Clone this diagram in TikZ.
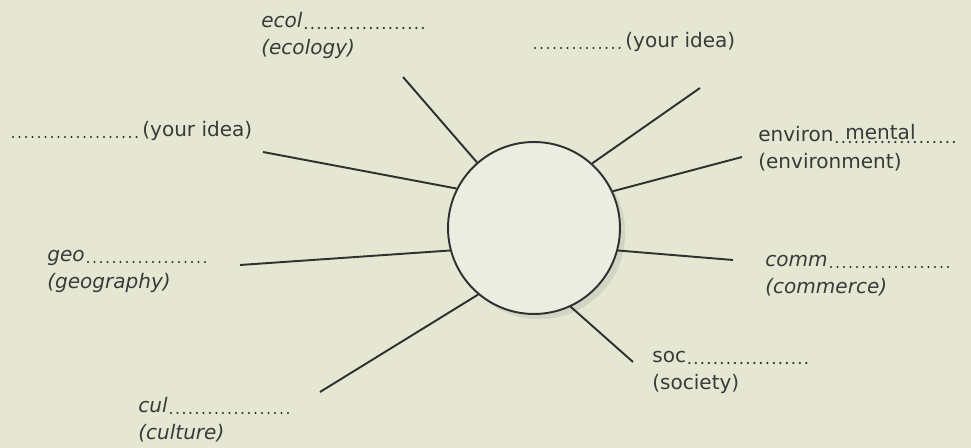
\documentclass[tikz,border=0pt]{standalone}
\usepackage{fontspec}
\setmainfont{DejaVu Sans}
\usetikzlibrary{shadows, positioning}
\definecolor{paper}{HTML}{E5E7D3}
\definecolor{hubfill}{HTML}{ECEDE1}
\definecolor{ink}{HTML}{303030}
\definecolor{inktext}{HTML}{3A3A3A}
\tikzset{
  % central circle
  hub/.style={circle, draw=ink, line width=1.1pt, fill=hubfill, minimum size=3.44cm,
    inner sep=0pt, drop shadow={shadow xshift=3pt, shadow yshift=-3pt, opacity=0.18}},
  % line out of the circle
  spoke/.style={ink, line width=1.1pt},
  % blank to fill in
  dotline/.style={ink, line width=1.4pt, line cap=round, dash pattern=on 0pt off 3.7pt},
  % word text
  lbl/.style={font=\fontsize{11.4}{13}\selectfont, text=inktext, inner sep=0pt},
}
% stem, blank and meaning below
\newcommand{\wordlabel}[5]{%
  \node[lbl, anchor=base west] (#1) at (#2) {#3#4};
  \draw[dotline] (#1.base east) ++(3,0) -- ++(120,0);
  \node[lbl, anchor=base west] (#1g) at ([yshift=-0.54cm]#1.base west) {#3#5};
}

\begin{document}
\begin{tikzpicture}[x=0.02cm, y=-0.02cm]
  \fill[paper] (0,0) rectangle (971,448);
  \node[hub] (hub) at (534,228) {};
  % free ends of the spokes
  \coordinate (ecolend) at (403,77);
  \coordinate (ideaRend) at (700,88);
  \coordinate (environend) at (742,157);
  \coordinate (commend) at (733,260);
  \coordinate (socend) at (633,362);
  \coordinate (culend) at (320,392);
  \coordinate (geoend) at (240,265);
  \coordinate (ideaLend) at (263,152);
  \foreach \a/\e in {131/ecolend, 48/ideaRend, 25/environend, -15/commend,
    -65/socend, -130/culend, -165/geoend, 153/ideaLend}
    \draw[spoke] (hub.\a) -- (\e);
  % words
  \wordlabel{ecol}{261,28}{\itshape}{ecol}{(ecology)}
  \wordlabel{geo}{47,262}{\itshape}{geo}{(geography)}
  \wordlabel{comm}{765,267}{\itshape}{comm}{(commerce)}
  \wordlabel{soc}{652,363}{}{soc}{(society)}
  \wordlabel{cul}{138,413}{\itshape}{cul}{(culture)}
  \wordlabel{environ}{758,142}{}{environ}{(environment)}
  \node[lbl, anchor=base west] (mental) at (845,140) {mental};
  % own ideas
  \coordinate (ideaLdot) at (13,137);
  \node[lbl, anchor=base west] (ideaL) at (142,137) {(your idea)};
  \draw[dotline] (ideaLdot) -- ([xshift=-3pt]ideaL.base west);
  \coordinate (ideaRdot) at (535,48);
  \node[lbl, anchor=base west] (ideaR) at (625,48) {(your idea)};
  \draw[dotline] (ideaRdot) -- ([xshift=-3pt]ideaR.base west);
\end{tikzpicture}
\end{document}
